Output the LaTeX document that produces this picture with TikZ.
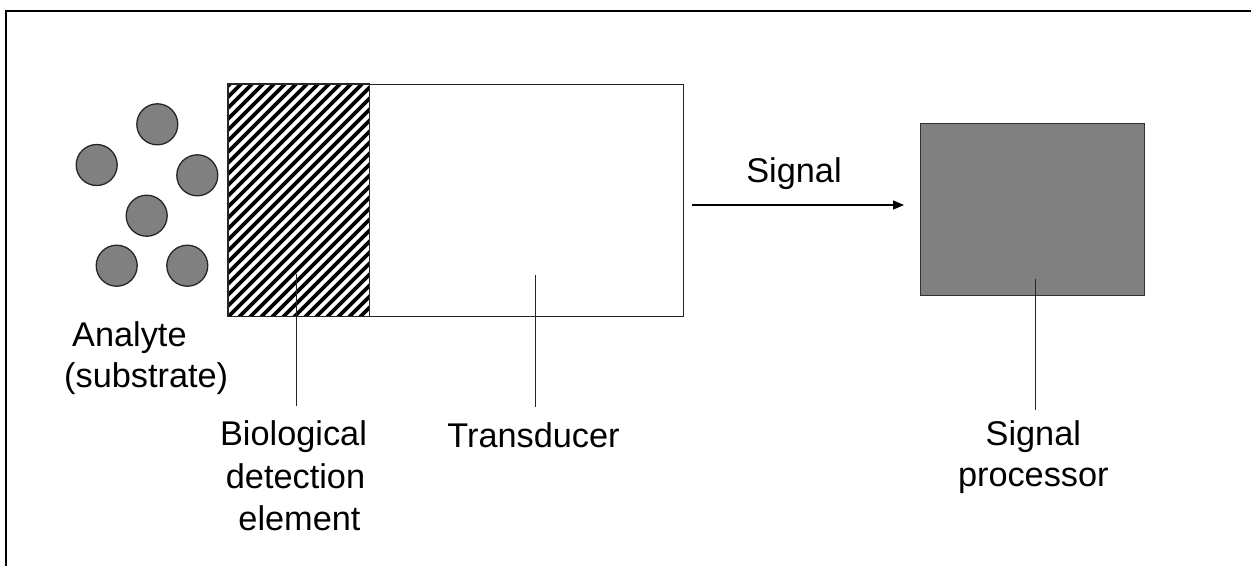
\documentclass[tikz,border=0pt]{standalone}
\usepackage{fontspec}
\setmainfont{Liberation Sans}
\usetikzlibrary{arrows.meta}
\tikzset{
  molecule/.style={circle, draw=black!85, line width=1.3pt, fill=black!50, minimum size=41pt, inner sep=0pt},
  label/.style={anchor=base, inner sep=0pt, font=\fontsize{34.3}{41}\selectfont, text=black},
  leader/.style={draw=black!85, line width=1.2pt},
  boxline/.style={draw=black!85, line width=1.2pt},
}
\begin{document}
\begin{tikzpicture}[x=1pt,y=-1pt]
\useasboundingbox (0,0) rectangle (1251,566);
% frame
\draw[line width=2pt] (5.5,566) -- (5.5,11) -- (1251,11);

% analyte molecules
\node[molecule] (m1) at (157.3,124.3) {};
\node[molecule] (m2) at (96.7,165) {};
\node[molecule] (m3) at (197.3,175.3) {};
\node[molecule] (m4) at (146.7,215.7) {};
\node[molecule] (m5) at (116.7,265.7) {};
\node[molecule] (m6) at (187.3,265.7) {};

% transducer
\node[boxline, rectangle, inner sep=0pt, minimum width=455pt, minimum height=232pt, anchor=north west] (trans) at (228,84) {};
% biological detection element (hatched)
\node[rectangle, inner sep=0pt, minimum width=141pt, minimum height=232pt, anchor=north west, fill=white] (bio) at (228,84) {};
\begin{scope}
  \clip (bio.south west) rectangle (bio.north east);
  \foreach \i in {-22,...,14} {
    \draw[line width=3.6pt, black] (228+\i*11,317) -- ++(234,-234);
  }
\end{scope}
\draw[boxline] (bio.south west) rectangle (bio.north east);

% signal processor
\node[rectangle, draw=black!80, line width=1.3pt, fill=black!50, inner sep=0pt, minimum width=224pt, minimum height=172pt, anchor=north west] (proc) at (920,123) {};

% signal arrow
\coordinate (sigStart) at (692,205);
\coordinate (sigEnd) at (904,205);
\draw[line width=1.2pt, -{Triangle[length=11pt,width=9pt]}] (sigStart) -- (sigEnd);
\node[label] (sig) at (794,182) {Signal};

% leader lines
\coordinate (bioTop) at (296.7,274);
\coordinate (bioBot) at (296.7,406);
\draw[leader] (bioTop) -- (bioBot);
\coordinate (transTop) at (535.5,275);
\coordinate (transBot) at (535.5,407);
\draw[leader] (transTop) -- (transBot);
\coordinate (procTop) at (1035.3,279);
\coordinate (procBot) at (1035.3,410);
\draw[leader] (procTop) -- (procBot);

% labels
\node[label, anchor=base west] (an1) at (72,346.7) {Analyte};
\node[label, anchor=base west] (an2) at (64,387.3) {(substrate)};

\node[label] (bd1) at (293.5,445.7) {Biological};
\node[label] (bd2) at (295.5,488) {detection};
\node[label] (bd3) at (299.5,530) {element};

\node[label] (td) at (533.5,447) {Transducer};

\node[label] (sp1) at (1033.3,445.3) {Signal};
\node[label] (sp2) at (1033.3,486.5) {processor};
\end{tikzpicture}
\end{document}
